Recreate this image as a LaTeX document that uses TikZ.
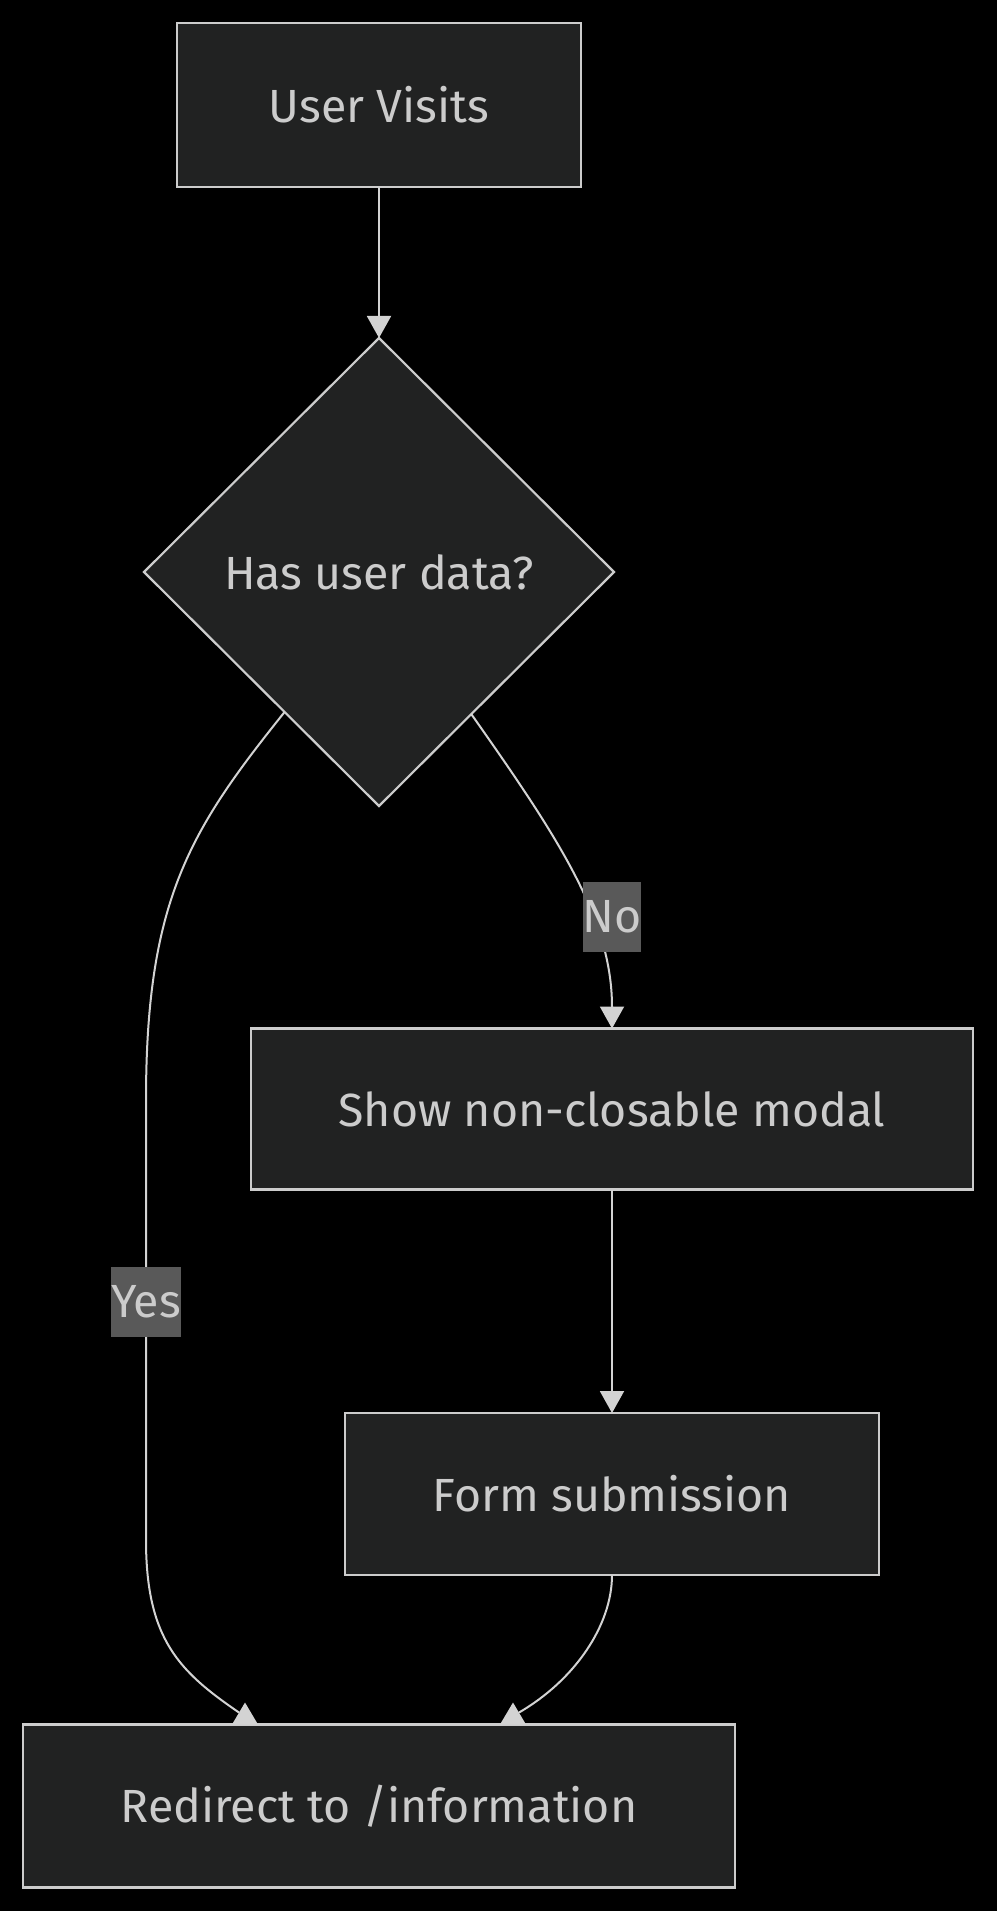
\documentclass[tikz,border=0pt]{standalone}
\usepackage{fontspec}
\setmainfont{Fira Sans}
\usetikzlibrary{shapes.geometric,arrows.meta}
\definecolor{nodefill}{HTML}{212222}
\definecolor{nodeline}{HTML}{CCCCCC}
\definecolor{linkcol}{HTML}{D3D3D3}
\definecolor{txtcol}{HTML}{CCCCCC}
\definecolor{lblfill}{HTML}{595959}

\begin{document}
\begin{tikzpicture}[x=1pt,y=-1pt,
  every node/.style={text=txtcol, font=\fontsize{46.5}{56}\selectfont, outer sep=0pt},
  box/.style={draw=nodeline, fill=nodefill, line width=2.2pt, inner sep=0pt},
  decision/.style={diamond, draw=nodeline, fill=nodefill, line width=2.2pt, inner sep=0pt,
    minimum width=470pt, minimum height=468pt},
  edgelabel/.style={fill=lblfill, inner sep=0pt, minimum height=70pt},
  linkline/.style={draw=linkcol, line width=2pt},
  link/.style={linkline, -{Triangle[width=24pt,length=22pt]}}]
\fill[black] (0,0) rectangle (997,1911);
\useasboundingbox (0,0) rectangle (997,1911);

\node[box, minimum width=404pt, minimum height=164pt] (visit) at (379,105) {User Visits};
\node[decision] (hasdata) at (379,572) {Has user data?};
\node[box, minimum width=722pt, minimum height=161pt] (modal) at (612,1109) {Show non-closable modal};
\node[box, minimum width=534pt, minimum height=162pt] (form) at (612,1494) {Form submission};
\node[box, minimum width=712pt, minimum height=163pt] (redirect) at (379,1806) {Redirect to /information};

\coordinate (inL) at ([xshift=-134pt]redirect.north);
\coordinate (inR) at ([xshift=134pt]redirect.north);

\draw[link] (visit) -- (hasdata);
\draw[link] (hasdata.303.3) .. controls (560,840) and (612,920) .. (modal.north);
\draw[link] (modal) -- (form);

% yes branch, mermaid draws these tips pointing up
\draw[linkline] (hasdata.236.7) .. controls (190,830) and (146,900) .. (146,1100)
  -- (146,1540) .. controls (146,1640) and (180,1672) .. ([xshift=-6pt,yshift=12pt]inL);
\draw[linkline] (form.south) .. controls (612,1625) and (575,1680) .. ([xshift=6pt,yshift=12pt]inR);
\fill[linkcol] ([xshift=-13pt]inL) -- ([yshift=22pt]inL) -- ([xshift=13pt]inL) -- cycle;
\fill[linkcol] ([xshift=-13pt]inR) -- ([yshift=22pt]inR) -- ([xshift=13pt]inR) -- cycle;

\node[edgelabel] (yes) at (146,1302) {Yes};
\node[edgelabel] (no) at (612,917) {No};
\end{tikzpicture}
\end{document}
